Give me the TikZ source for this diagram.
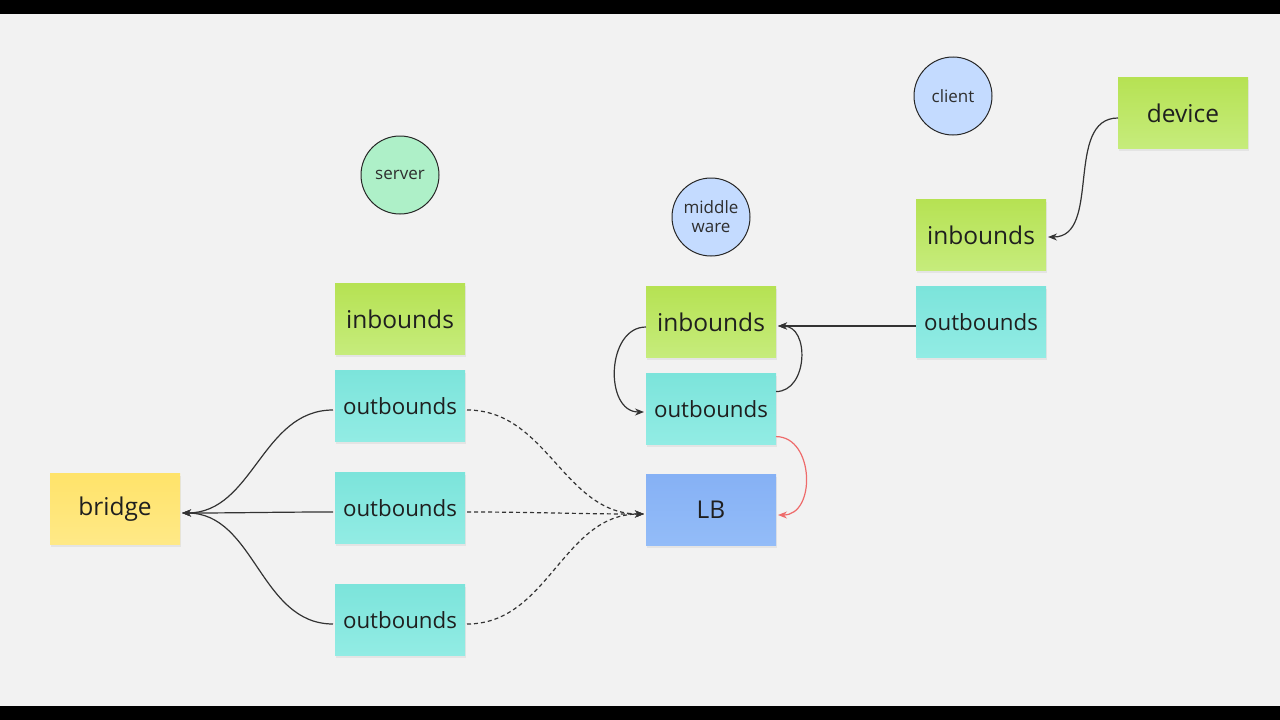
\documentclass[tikz,border=0pt]{standalone}
\usepackage{fontspec}
\setmainfont{Open Sans}
\usepackage{tikz}
\usetikzlibrary{arrows.meta,calc,positioning,shadows,shapes}
\definecolor{board}{HTML}{F2F2F2}
\definecolor{ink}{HTML}{333333}
\definecolor{ingreen}{HTML}{B6E253}
\definecolor{ingreenlt}{HTML}{C6EC7C}
\definecolor{outcyan}{HTML}{7CE4DB}
\definecolor{outcyanlt}{HTML}{92ECE4}
\definecolor{lbblue}{HTML}{86B1F5}
\definecolor{lbbluelt}{HTML}{93BCF8}
\definecolor{bridgey}{HTML}{FFE36A}
\definecolor{bridgeylt}{HTML}{FFE987}
\definecolor{srvgreen}{HTML}{AEF0C8}
\definecolor{cltblue}{HTML}{C4DBFF}
\definecolor{redline}{HTML}{EE6B6B}
\tikzset{>=stealth,
	sticky/.style={% sticky notes
		rectangle,
		minimum width=130pt,
		minimum height=71pt,
		outer sep=0pt,
		text=black!88,
		font=\fontsize{24.5}{29}\selectfont,
		drop shadow={opacity=0.12,shadow xshift=1pt,shadow yshift=-2pt}
	},
	inbox/.style={sticky, top color=ingreen, bottom color=ingreenlt},
	outbox/.style={sticky, top color=outcyan, bottom color=outcyanlt,
		font=\fontsize{22.3}{27}\selectfont},
	role/.style={
		draw=black!85,
		shape=circle,
		line width=1pt,
		minimum size=78pt,
		inner sep=0pt,
		text=black!82,
		font=\fontsize{17}{21}\selectfont,
		align=center
	},
	link/.style={draw=ink, line width=1.2pt, -{Stealth[length=9pt,width=7pt]}},
	dashlink/.style={link, dash pattern=on 4pt off 3pt}
}
\begin{document}
\begin{tikzpicture}[x=1pt,y=-1pt]
	\fill[board] (0,0) rectangle (1280,720);
	\fill[black] (0,0) rectangle (1280,14);
	\fill[black] (0,706) rectangle (1280,720);
	% roles
	\node [role, fill=srvgreen] (srv) at (400,175) {\raisebox{-2pt}{server}};
	\node [role, fill=cltblue] (mw) at (711,217) {\raisebox{-2pt}{middle}\\ware};
	\node [role, fill=cltblue] (clt) at (953,96) {\raisebox{-1pt}{client}};
	% server side
	\node [inbox] (sin) at (400,319) {inbounds};
	\node [outbox] (so1) at (400,406) {outbounds};
	\node [outbox] (so2) at (400,508) {outbounds};
	\node [outbox] (so3) at (400,620) {outbounds};
	\node [sticky, top color=bridgey, bottom color=bridgeylt] (br) at (115,509) {bridge};
	% middleware
	\node [inbox] (mi) at (711,322) {inbounds};
	\node [outbox] (mo) at (711,409) {outbounds};
	\node [sticky, top color=lbblue, bottom color=lbbluelt] (lb) at (711,510) {LB};
	% client
	\node [inbox] (dev) at (1183,113) {device};
	\node [inbox] (ci) at (981,235) {inbounds};
	\node [outbox] (co) at (981,322) {outbounds};
	% connectors
	\draw [link] ([yshift=-5pt]dev.west) to [out=180,in=0] ([xshift=2pt,yshift=-2pt]ci.east);
	\draw [link] ([yshift=-4pt]co.west) -- ([xshift=2pt,yshift=-4pt]mi.east);
	\draw [link] (mo.15) to [out=0,in=0,looseness=1.25] ([xshift=2pt,yshift=-4pt]mi.east);
	\draw [link] ([yshift=-5pt]mi.west) to [out=180,in=180,looseness=1.2] ([xshift=-2pt,yshift=-3pt]mo.west);
	\draw [link,draw=redline] (mo.-23) to [out=0,in=0,looseness=1.25] ([xshift=2pt,yshift=-5pt]lb.east);
	\foreach \s in {so1,so2,so3}{
		\draw [dashlink] ([xshift=2pt,yshift=-4pt]\s.east) to [out=0,in=180] ([xshift=-2pt,yshift=-4pt]lb.west);
		\draw [link] ([xshift=-2pt,yshift=-4pt]\s.west) to [out=180,in=0] ([xshift=2pt,yshift=-4pt]br.east);
	}
\end{tikzpicture}
\end{document}
